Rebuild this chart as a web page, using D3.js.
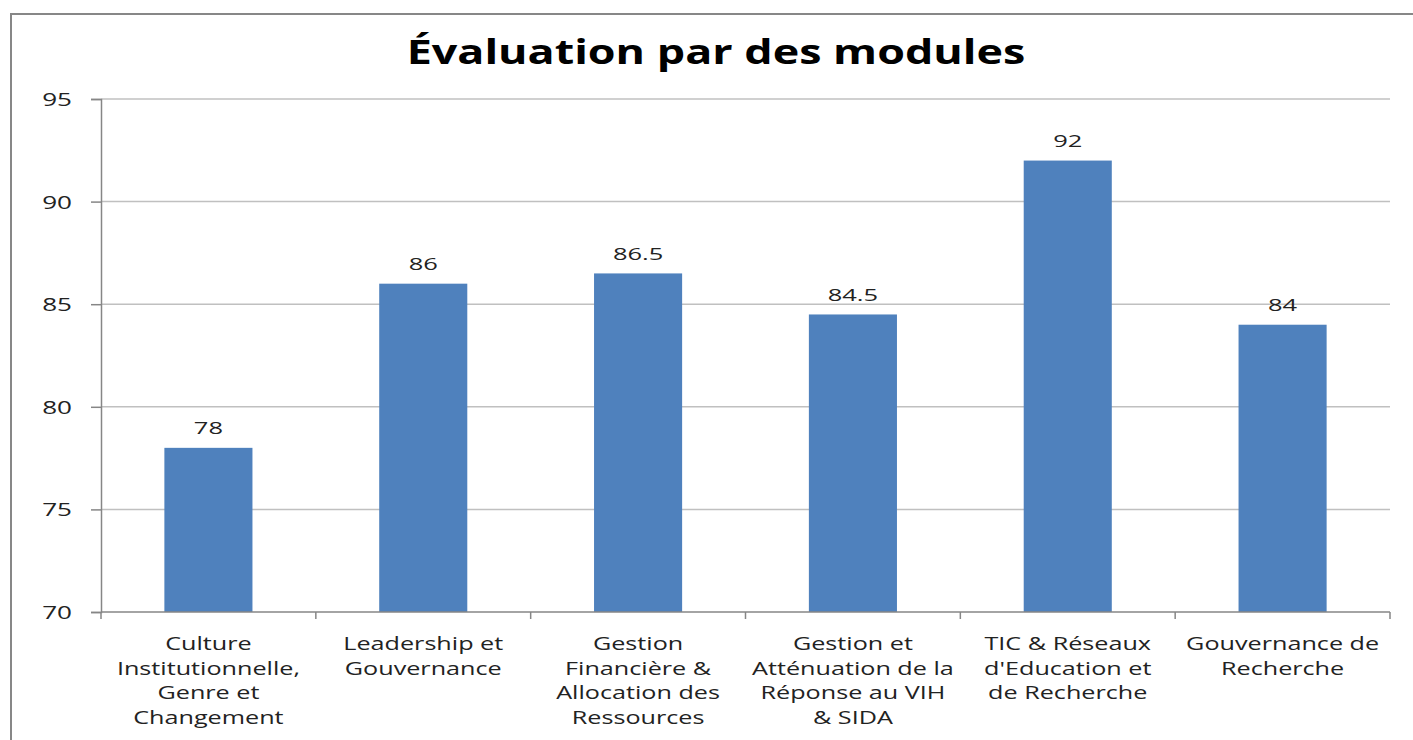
<!DOCTYPE html>
<html>
<head>
<meta charset="utf-8">
<script src="https://cdn.jsdelivr.net/npm/d3@7"></script>
<style>
  html, body { margin: 0; padding: 0; background: #fff; }
  svg { display: block; }
  text { font-family: "Open Sans", "DejaVu Sans", sans-serif; fill: #222; }
</style>
</head>
<body>
<svg id="chart" width="1413" height="740"></svg>
<script>
const title = "Évaluation par des modules";
const categories = [
  ["Culture", "Institutionnelle,", "Genre et", "Changement"],
  ["Leadership et", "Gouvernance"],
  ["Gestion", "Financière &", "Allocation des", "Ressources"],
  ["Gestion et", "Atténuation de la", "Réponse au VIH", "& SIDA"],
  ["TIC & Réseaux", "d'Education et", "de Recherche"],
  ["Gouvernance de", "Recherche"]
];
const values = [78, 86, 86.5, 84.5, 92, 84];
const valueLabels = ["78", "86", "86.5", "84.5", "92", "84"];
const yTicks = [70, 75, 80, 85, 90, 95];

const svg = d3.select("#chart");
const W = 1413, H = 740;
const m = {left: 101, right: 1390, top: 99, bottom: 612};

// outer frame
svg.append("rect")
  .attr("x", 11).attr("y", 14)
  .attr("width", W + 10).attr("height", H + 10)
  .attr("fill", "none").attr("stroke", "#878787").attr("stroke-width", 2);

svg.append("text")
  .attr("transform", "translate(716,64) scale(1.32,1)")
  .attr("text-anchor", "middle")
  .style("font-size", "34px").style("font-weight", "bold")
  .style("fill", "#000")
  .text(title);

const ids = d3.range(categories.length);
const x = d3.scaleBand().domain(ids).range([m.left, m.right]).paddingInner(0).paddingOuter(0);
const y = d3.scaleLinear().domain([70, 95]).range([m.bottom, m.top]);

// gridlines
svg.append("g").selectAll("line").data(yTicks.filter(t => t > 70)).join("line")
  .attr("x1", m.left).attr("x2", m.right)
  .attr("y1", d => y(d)).attr("y2", d => y(d))
  .attr("stroke", "#c0c0c0").attr("stroke-width", 1.5);

// y axis
const yAxis = svg.append("g").attr("transform", `translate(${m.left},0)`)
  .call(d3.axisLeft(y).tickValues(yTicks).tickSize(10).tickPadding(29).tickFormat(d3.format("d")));
yAxis.select(".domain").attr("stroke", "#868686").attr("stroke-width", 1.5);
yAxis.selectAll(".tick line").attr("stroke", "#868686").attr("stroke-width", 1.5);
yAxis.selectAll(".tick text")
  .style("font-size", "18px").style("font-family", "'Open Sans', sans-serif").attr("fill", "#222")
  .attr("x", null).attr("dy", null)
  .attr("transform", "translate(-29,6.5) scale(1.45,1)");

// bars
const barFrac = 0.41;
svg.append("g").selectAll("rect").data(values).join("rect")
  .attr("x", (d, i) => x(i) + x.bandwidth() * (1 - barFrac) / 2)
  .attr("width", x.bandwidth() * barFrac)
  .attr("y", d => y(d))
  .attr("height", d => y(70) - y(d))
  .attr("fill", "#4F81BD");

// value labels
svg.append("g").selectAll("text").data(values).join("text")
  .attr("transform", (d, i) => `translate(${x(i) + x.bandwidth() / 2},${y(d) - 13.5}) scale(1.5,1)`)
  .attr("text-anchor", "middle")
  .style("font-size", "17px")
  .text((d, i) => valueLabels[i]);

// x axis
const xAxisG = svg.append("g").attr("transform", `translate(0,${m.bottom})`);
xAxisG.append("line").attr("x1", m.left).attr("x2", m.right).attr("y1", 0).attr("y2", 0)
  .attr("stroke", "#868686").attr("stroke-width", 1.5);
xAxisG.selectAll("line.tk").data(d3.range(categories.length + 1)).join("line")
  .attr("class", "tk")
  .attr("x1", i => m.left + i * x.step()).attr("x2", i => m.left + i * x.step())
  .attr("y1", 0).attr("y2", 7)
  .attr("stroke", "#868686").attr("stroke-width", 1.5);

const lab = svg.append("g").selectAll("text").data(categories).join("text")
  .attr("text-anchor", "middle")
  .attr("transform", (d, i) => `translate(${x(i) + x.bandwidth() / 2},0) scale(1.4,1)`)
  .style("font-size", "18px");
lab.each(function(lines, i) {
  d3.select(this).selectAll("tspan").data(lines).join("tspan")
    .attr("x", 0)
    .attr("y", (d, j) => 650 + j * 24.7)
    .text(d => d);
});
</script>
</body>
</html>
